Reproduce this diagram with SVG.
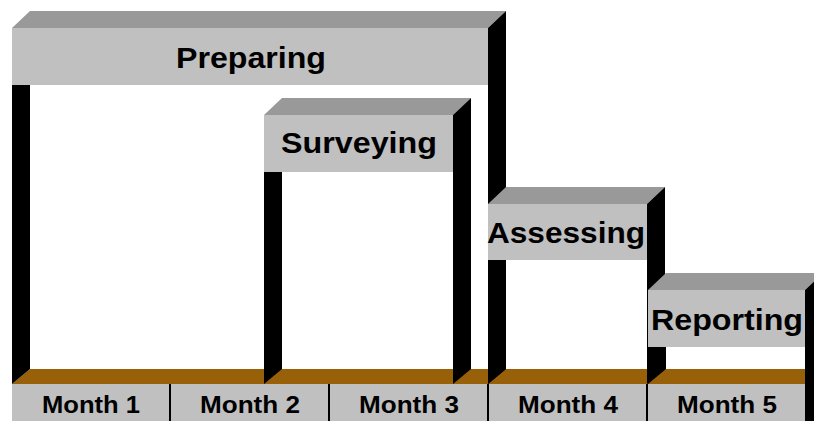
<svg xmlns="http://www.w3.org/2000/svg" width="814" height="421" viewBox="0 0 814 421">
<style>
.front{fill:#c0c0c0}
.top{fill:#999999}
.side{fill:#000000}
.floor{fill:#99600a}
.lbl{font-family:"Liberation Sans",Arial,sans-serif;font-weight:bold;font-size:30px;fill:#000;text-anchor:middle}
.mon{font-family:"Liberation Sans",Arial,sans-serif;font-weight:bold;font-size:24px;fill:#000;text-anchor:middle}
.div{stroke:#000;stroke-width:2}
</style>
<rect width="814" height="421" fill="#ffffff"/>
<g id="base">
<polygon class="floor" points="12,384 30,369 823,369 805,384"/>
<rect class="front" x="12" y="384" width="793" height="37"/>
<polygon class="side" points="805,384 823,369 823,421 805,421"/>
<line class="div" x1="170" y1="384" x2="170" y2="421"/>
<line class="div" x1="329" y1="384" x2="329" y2="421"/>
<line class="div" x1="488" y1="384" x2="488" y2="421"/>
<line class="div" x1="647" y1="384" x2="647" y2="421"/>
<text class="mon" x="91" y="413" textLength="98" lengthAdjust="spacingAndGlyphs">Month 1</text>
<text class="mon" x="250" y="413" textLength="100" lengthAdjust="spacingAndGlyphs">Month 2</text>
<text class="mon" x="409" y="413" textLength="100" lengthAdjust="spacingAndGlyphs">Month 3</text>
<text class="mon" x="568" y="413" textLength="100" lengthAdjust="spacingAndGlyphs">Month 4</text>
<text class="mon" x="727" y="413" textLength="100" lengthAdjust="spacingAndGlyphs">Month 5</text>
</g>
<g id="preparing">
<polygon class="side" points="12,85 30,85 30,369 12,384"/>
<polygon class="top" points="12,28 30,11 506,11 488,28"/>
<rect class="front" x="12" y="28" width="476" height="57"/>
<polygon class="side" points="488,28 506,11 506,369 488,384"/>
<text class="lbl" x="251" y="68" textLength="150" lengthAdjust="spacingAndGlyphs">Preparing</text>
</g>
<g id="surveying">
<polygon class="side" points="264,172 282,172 282,369 264,384"/>
<polygon class="top" points="264,115 282,98 471,98 453,115"/>
<rect class="front" x="264" y="115" width="189" height="57"/>
<polygon class="side" points="453,115 471,98 471,369 453,384"/>
<text class="lbl" x="359" y="153" textLength="156" lengthAdjust="spacingAndGlyphs">Surveying</text>
</g>
<g id="assessing">
<polygon class="side" points="488,260 506,260 506,369 488,384"/>
<polygon class="top" points="488,204 506,187 665,187 647,204"/>
<rect class="front" x="488" y="204" width="159" height="56"/>
<polygon class="side" points="647,204 665,187 665,369 647,384"/>
<text class="lbl" x="566" y="243" textLength="158" lengthAdjust="spacingAndGlyphs">Assessing</text>
</g>
<g id="reporting">
<polygon class="side" points="648,347 666,347 666,369 648,384"/>
<polygon class="top" points="648,290 666,273 823,273 805,290"/>
<rect class="front" x="648" y="290" width="157" height="57"/>
<polygon class="side" points="805,290 823,273 823,421 805,421"/>
<text class="lbl" x="727" y="330" textLength="152" lengthAdjust="spacingAndGlyphs">Reporting</text>
</g>
</svg>
